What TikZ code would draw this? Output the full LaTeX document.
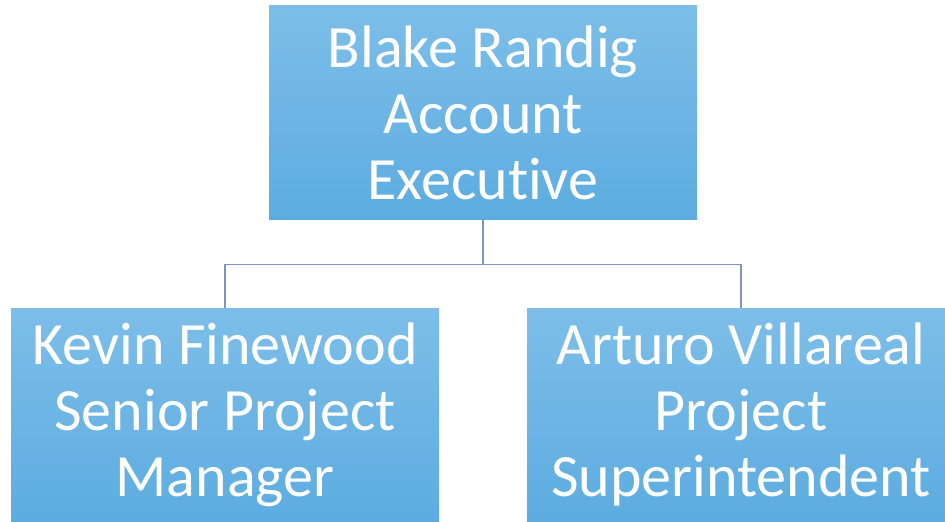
\documentclass[tikz,border=0pt]{standalone}
\usepackage{fontspec}
\setmainfont{Carlito}[Ligatures=NoCommon,RawFeature={-clig;-calt}]
\usetikzlibrary{calc,
                 positioning,
                 shadings
  }

\definecolor{boxtop}{HTML}{7DBEE9}
\definecolor{boxbottom}{HTML}{5DACE0}
\definecolor{linkcolor}{HTML}{7F95BE}

\begin{document}
\begin{tikzpicture}[
      person/.style={
                rectangle,
                top color=boxtop,
                bottom color=boxbottom,
                draw=none,
                text=white,
                align=center,
                inner sep=0pt,
                minimum height=106.5pt,
                minimum width=214pt
                },
      link/.style={
                draw=linkcolor,
                line width=0.7pt
                },
      every node/.style={font=\fontsize{30}{33}\selectfont}
]

\useasboundingbox (0,0) rectangle (472.5pt,260.5pt);
\clip (0,0) rectangle (472.5pt,260.5pt);

\node[person] (blake) at (241.5pt,204.25pt) {Blake Randig\\Account\\Executive};

\node[person] (kevin) at ($ (blake) + (-129pt,-151pt) $) {Kevin Finewood\\Senior Project\\Manager};
\node[person] (arturo) at ($ (blake) + (129pt,-151pt) $) {Arturo Villareal\\Project\\Superintendent};

\draw[link] (blake.south) -- ++(0,-22.5pt) coordinate (fork) -| (kevin.north);
\draw[link] (fork) -| (arturo.north);

\end{tikzpicture}
\end{document}
